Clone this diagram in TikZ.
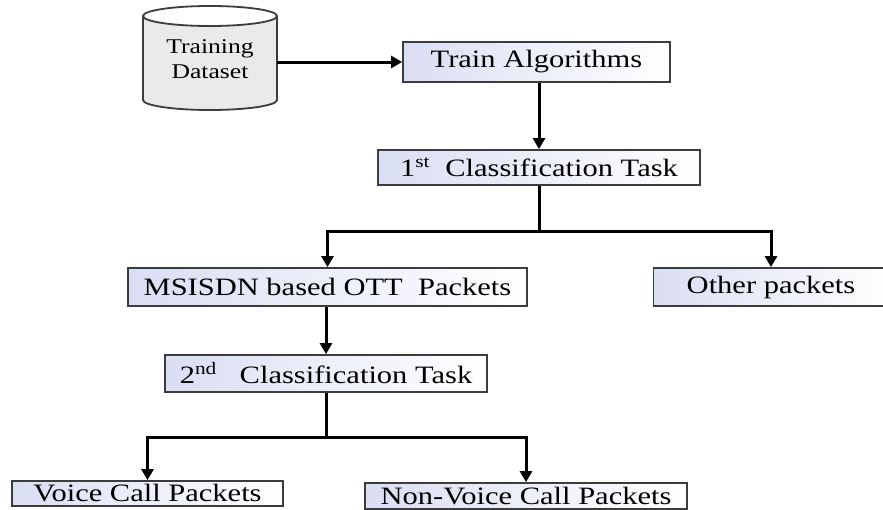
\documentclass[tikz,border=0pt]{standalone}
\usepackage{fontspec}
\setmainfont[FakeStretch=1.22]{Liberation Serif}
\usetikzlibrary{arrows.meta}

\definecolor{boxline}{RGB}{60,60,60}
\definecolor{boxtint}{RGB}{218,222,243}
\definecolor{cylfill}{RGB}{234,234,234}

\tikzset{
  stepbox/.style={draw=boxline, line width=1.8pt, left color=boxtint, right color=white,
    inner sep=0pt, align=center, font=\fontsize{25}{28}\selectfont},
  flow/.style={line width=3pt, -{Triangle[length=11pt,width=12pt]}},
  link/.style={line width=3pt}
}

\begin{document}
\begin{tikzpicture}[x=1pt,y=1pt]
  \useasboundingbox (0,0) rectangle (883,-509);
  \clip (0,0) rectangle (883,-509);

  % storage cylinder
  \fill[cylfill] (143,-16) -- (143,-100)
    arc[start angle=180, end angle=360, x radius=67, y radius=10] -- (277,-16) -- cycle;
  \fill[white] (210,-16) ellipse [x radius=67, y radius=10];
  \draw[boxline, line width=1.8pt] (210,-16) ellipse [x radius=67, y radius=10];
  \draw[boxline, line width=1.8pt] (143,-16) -- (143,-100)
    arc[start angle=180, end angle=360, x radius=67, y radius=10] -- (277,-16);
  \node[minimum width=134pt, inner sep=0pt, align=center,
        font=\fontsize{21}{25}\selectfont] (db) at (210,-59) {Training\\Dataset};

  % process boxes
  \node[stepbox, minimum width=267pt, minimum height=40pt] (train) at (536.5,-62) {Train Algorithms};
  \node[stepbox, minimum width=322pt, minimum height=35pt] (c1) at (539,-167.5)
    {1\textsuperscript{st}\ \ Classification Task};
  \node[stepbox, minimum width=399pt, minimum height=38pt] (ott) at (327.5,-287)
    {MSISDN based OTT\ \ Packets};
  \node[stepbox, minimum width=235pt, minimum height=38pt] (other) at (771,-287) {Other packets};
  \node[stepbox, minimum width=322pt, minimum height=37pt] (c2) at (326,-373.5)
    {2\textsuperscript{nd}\ \ \ Classification Task};
  \node[stepbox, minimum width=271pt, minimum height=25pt] (voice) at (147.5,-493.5)
    {Voice Call Packets};
  \node[stepbox, minimum width=322pt, minimum height=26pt] (nonvoice) at (526,-496)
    {Non-Voice Call Packets};

  % junction points of the branching connectors
  \coordinate (j1) at (539,-231);
  \coordinate (j2) at (326,-437);

  % connectors
  \draw[flow] (db.east |- train.west) -- (train.west);
  \draw[flow] (train.south -| c1.north) -- (c1.north);
  \draw[link] (c1.south) -- (j1);
  \draw[flow] (j1) -| (ott.north);
  \draw[flow] (j1) -| (other.north);
  \draw[flow] (ott.south -| c2.north) -- (c2.north);
  \draw[link] (c2.south) -- (j2);
  \draw[flow] (j2) -| (voice.north);
  \draw[flow] (j2) -| (nonvoice.north);
\end{tikzpicture}
\end{document}
